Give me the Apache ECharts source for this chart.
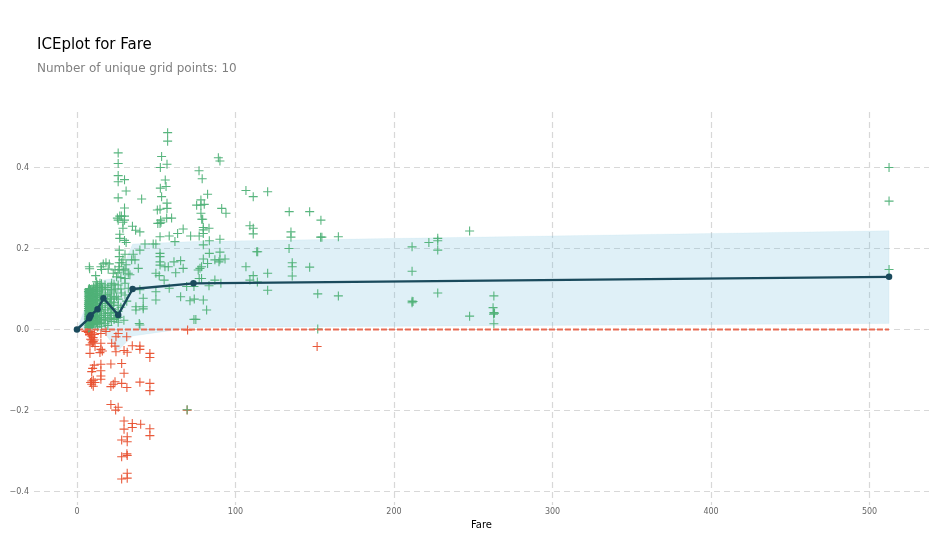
<!DOCTYPE html>
<html><head><meta charset="utf-8">
<style>html,body{margin:0;padding:0;background:#fff}#c{width:944px;height:537px}</style>
<script src="https://cdn.jsdelivr.net/npm/echarts@6/dist/echarts.min.js"></script>
</head><body><div id="c"></div>
<script>
const xTicks = [0,100,200,300,400,500];
const yTicks = [-0.4,-0.2,0,0.2,0.4];
const gridFare = [0,7.73,7.9,8.66,13,16.7,26,35.1,73.5,512.3];
const meanLine = [0,0.028,0.031,0.035,0.05,0.077,0.036,0.1,0.114,0.13];
const upperBand = [0,0.08,0.085,0.09,0.1,0.122,0.128,0.211,0.217,0.244];
const lowerBand = [0,0.0,-0.002,-0.002,-0.002,-0.006,-0.052,-0.016,0.005,0.015];

const greenSparse = [
[57.2,.486],[57.2,.465],[53.4,.427],[56.8,.408],[52.6,.4],[89.2,.424],[90.2,.416],[77,.392],[79,.372],[55.7,.369],[56.2,.353],[52.6,.349],
[82.4,.334],[53.4,.328],[56.8,.312],[56.8,.299],[50.7,.295],[52.4,.297],[40.8,.322],[78.2,.32],[75.5,.307],[78.2,.307],[80.3,.309],[78.2,.287],
[91.3,.299],[94,.287],[78.7,.272],[79.3,.272],[59.7,.275],[56.6,.275],[52.8,.27],[52.4,.262],[51,.262],[53,.265],[109.1,.256],[111.2,.25],[111.2,.236],
[106.6,.343],[111.2,.328],[120.3,.34],[133.9,.291],[146.8,.291],[153.9,.27],[135,.241],[135,.228],[153.7,.228],[154.5,.228],[164.9,.229],[133.8,.2],
[113.4,.192],[114,.192],[79.7,.252],[79.7,.246],[83.3,.25],[79.7,.237],[67,.248],[63.5,.237],[58.2,.231],[52.4,.229],[71.7,.231],[77.1,.231],[39.7,.241],
[83.5,.219],[90.2,.223],[61.8,.217],[79.7,.209],[42.9,.211],[48.1,.211],[49.8,.211],[39.7,.196],[83.5,.188],[90.2,.191],[90.2,.172],[87,.172],[89.6,.167],[93.4,.174],
[79.7,.174],[82.4,.163],[52.4,.188],[52.4,.18],[52.4,.167],[52.4,.159],[55.5,.155],[57.6,.155],[61.2,.167],[65.4,.17],[67,.151],[62.3,.14],[77.6,.151],[76.5,.147],[78.6,.155],
[49.8,.139],[51.9,.133],[55,.122],[77.1,.126],[78.6,.126],[87,.122],[83.3,.108],[90.8,.114],[106.6,.155],[120.3,.139],[111.2,.133],[109.1,.122],[113.8,.117],
[135.8,.165],[135.8,.155],[135.8,.132],[146.8,.154],[120.3,.097],[151.9,.088],[164.9,.083],[69.2,.106],[73.8,.106],[58.2,.102],[49.8,.093],[39.7,.098],
[65.4,.081],[71.3,.071],[74,.075],[79.7,.073],[49.8,.073],[41.8,.077],[41.8,.056],[41.8,.051],[81.8,.048],[73.8,.025],[75,.025],[39.7,.011],
[211.4,.204],[222,.215],[227.6,.225],[227.6,.219],[227.6,.196],[247.7,.243],[211.4,.144],[227.6,.09],[263,.083],[211.4,.07],[211.4,.066],[212,.069],
[247.7,.033],[262.5,.054],[263,.042],[263.4,.04],[262.8,.038],[263,.014],[512.3,.4],[512.3,.317],[512.3,.148],[151.9,.001],[69.5,-.198],
[26,.436],[26,.41],[26,.38],[26,.365],[26,.325],[25.5,.275],[26,.27],[27,.28],[28,.28],[29,.265],[27,.235],[27,.225],[30,.3],[30,.37],[31,.342],[30,.28],[30,.27],[29,.25],[30,.22],[31,.215],
[35,.255],[37,.245],[26.7,.196],[26.7,.18],[26.7,.165],[28,.165],[30.3,.186],[30.3,.149],[35.5,.186],[34.5,.172],[38.7,.151],[36.6,.172],[32.4,.139],[30.3,.126],[25,.13],
[7.8,.155],[8,.15],[11.8,.133],[15.1,.155],[16.6,.162],[18.3,.165],[20.4,.162],[19.7,.149],[15.5,.148],[24,.147],[22.9,.139],[12.4,.118],[14.5,.114],[17.7,.11],[21.9,.114],[26,.11],[30.3,.114],
[33.4,.135],[29.3,.145],[26.7,.148],[25.9,.14],[37.2,.048],[37.2,.056],[39.3,.015],[29.6,.023],[25,.028],[20.8,.028],[17,.023],[17,.04],[20.8,.065],[25,.081],[30.3,.085],[32.4,.102],
[26,.075],[22.7,.05],[19.1,.07],[15.6,.09],[20.8,.09],[28,.09],[31.4,.07],[26,.06],[26,.045],[26,.03],[26,.018],[27.7,.055],[27.7,.1],[24.2,.1],[23,.06],[21,.04],[21,.075],[19.5,.055],[18,.035],[18,.085],[16.1,.1],[16.1,.06],[27.7,.128],[26.5,.155],[29,.172],[31,.16]
];
const greenDense = [
[7.25,[.098,.094,.09,.085,.081,.076,.071,.066,.062,.057,.052,.047,.043,.038,.033,.028,.024,.019,.014,.009,.004]],
[7.75,[.101,.096,.091,.087,.082,.078,.073,.069,.064,.059,.054,.05,.045,.04,.035,.031,.026,.021,.016,.011,.006]],
[7.9,[.1,.095,.092,.088,.083,.079,.074,.07,.065,.06,.055,.051,.046,.041,.037,.032,.027,.022,.017,.012,.007]],
[8.05,[.097,.093,.089,.084,.08,.075,.072,.067,.063,.058,.053,.049,.044,.039,.034,.03,.025,.02,.015,.01,.005]],
[8.3,[.099,.09,.083,.074,.068,.059,.05,.042,.033,.026,.018,.009]],
[8.66,[.099,.094,.088,.082,.077,.071,.066,.06,.055,.049,.044,.038,.033,.027,.022,.016,.011]],
[9.5,[.1,.093,.087,.08,.073,.067,.06,.053,.047,.04,.034,.027,.02,.013]],
[10.5,[.105,.097,.09,.082,.075,.067,.06,.052,.045,.037,.03,.022,.014]],
[11.5,[.108,.098,.088,.079,.07,.06,.05,.041,.032,.022,.013]],
[12.35,[.104,.093,.084,.074,.063,.054,.045,.036,.026,.017]],
[13,[.11,.103,.095,.088,.08,.073,.065,.058,.05,.043,.035,.028,.02,.013,.006]],
[14.45,[.105,.095,.085,.075,.065,.055,.045,.035,.025,.015]],
[15.5,[.113,.103,.083,.072,.05,.03,.018,.008]],
[17.8,[.098,.076,.064,.048,.029,.014]],
[19.5,[.104,.086,.041,.024,.01]],
[21.7,[.108,.098,.082,.068,.052,.035,.02]],
[23.4,[.112,.095,.078,.066,.042,.025]]
];
const redPoints = [
[5.7,-.005],[7.2,-.007],[6.6,-.002],[7.9,-.012],[8.4,-.005],[9.1,-.016],[9.6,-.008],[10.2,-.02],[8.6,-.024],[11,-.012],[9.3,-.026],[10.3,-.03],[10.9,-.026],[9.7,-.033],
[8.2,-.038],[11.4,-.042],[8.2,-.059],[15.1,-.034],[15.1,-.01],[18.3,-.005],[15.1,-.049],[16,-.053],[14.5,-.057],[21.9,-.034],[24,-.041],[26,-.01],[24.6,-.018],[31.4,-.018],[24.6,-.055],
[29.7,-.052],[31.7,-.056],[34.9,-.04],[39.7,-.041],[39.7,-.049],[46,-.059],[46,-.069],[21.4,-.085],[28.2,-.084],[29.7,-.108],[10.9,-.088],[9.9,-.096],[9.3,-.104],[15.1,-.086],[15.1,-.102],
[15.1,-.115],[15.1,-.123],[9.3,-.127],[10.3,-.125],[8.6,-.131],[11.4,-.131],[10.3,-.14],[9.3,-.135],[21.4,-.141],[22.9,-.135],[24,-.129],[28.2,-.133],[31.5,-.143],[39.7,-.13],[46,-.133],[46,-.151],
[21.4,-.185],[26,-.192],[24.4,-.199],[29.7,-.226],[34.9,-.232],[40.2,-.234],[34.9,-.242],[29.7,-.246],[46,-.245],[46,-.262],[31.7,-.265],[31.7,-.277],[28.2,-.273],[31.5,-.307],[31.7,-.311],[28.2,-.314],
[31.7,-.355],[31.7,-.367],[28.2,-.369],[151.5,-.042],[69.8,-.001],[69.5,-.199]
];

const greenData = greenSparse.slice();
greenDense.forEach(c => c[1].forEach(v => greenData.push([c[0], v])));

const crossPath = 'path://M4.4,0h1.2v10h-1.2zM0,4.4h10v1.2h-10z';
const chart = echarts.init(document.getElementById('c'), null, {renderer:'canvas'});
const ff = '"DejaVu Sans"';
const gridStyle = {show:true, lineStyle:{color:'#d8d8d8', type:[6,4], width:1.2}};
chart.setOption({
  animation:false,
  backgroundColor:'#fff',
  title:[
    {text:'ICEplot for Fare', left:32, top:33, textStyle:{fontFamily:ff, fontSize:15, fontWeight:'normal', color:'#000'}},
    {text:'Number of unique grid points: 10', left:32, top:58, textStyle:{fontFamily:ff, fontSize:12, fontWeight:'normal', color:'#808080'}}
  ],
  grid:{left:34, right:15, top:112, bottom:32},
  xAxis:{type:'value', min:-27.1, max:537.5, name:'Fare', nameLocation:'middle', nameGap:14,
    nameTextStyle:{fontFamily:ff, fontSize:10, color:'#000'},
    axisLine:{show:false}, axisTick:{show:false, customValues:xTicks},
    axisLabel:{customValues:xTicks, fontFamily:ff, fontSize:8, color:'#666', margin:3},
    splitLine:gridStyle},
  yAxis:{type:'value', min:-0.4333, max:0.537,
    axisLine:{show:false}, axisTick:{show:false, customValues:yTicks},
    axisLabel:{customValues:yTicks, fontFamily:ff, fontSize:8, color:'#666', margin:5,
      formatter:v => (v<0?'\u2212':'')+Math.abs(v).toFixed(1)},
    splitLine:gridStyle},
  series:[
    {type:'custom', coordinateSystem:'cartesian2d', silent:true, z:1, clip:true,
      data:[[0,0]],
      renderItem:(p,api)=>{
        const pts=[];
        gridFare.forEach((x,i)=>pts.push(api.coord([x,upperBand[i]])));
        for(let i=gridFare.length-1;i>=0;i--) pts.push(api.coord([gridFare[i],lowerBand[i]]));
        return {type:'polygon', shape:{points:pts}, style:{fill:'rgba(102,186,215,0.21)', stroke:'rgba(102,186,215,0.08)', lineWidth:1}};
      }},
    {type:'scatter', data:redPoints, symbol:crossPath, symbolSize:9, z:3, silent:true, itemStyle:{color:'#e8502f', opacity:.95}},
    {type:'scatter', data:greenData, symbol:crossPath, symbolSize:9, z:3, silent:true, itemStyle:{color:'#4fb177', opacity:.95}},
    {type:'line', data:[[0,0],[512.3,0]], symbol:'none', z:4, silent:true, lineStyle:{color:'#e8634a', type:[6,2], width:2, opacity:.95}},
    {type:'line', data:gridFare.map((x,i)=>[x,meanLine[i]]), symbol:'circle', symbolSize:6.5, z:5, silent:true,
      itemStyle:{color:'#1a4a5c'}, lineStyle:{color:'#1a4a5c', width:2.4}}
  ]
});
</script></body></html>
